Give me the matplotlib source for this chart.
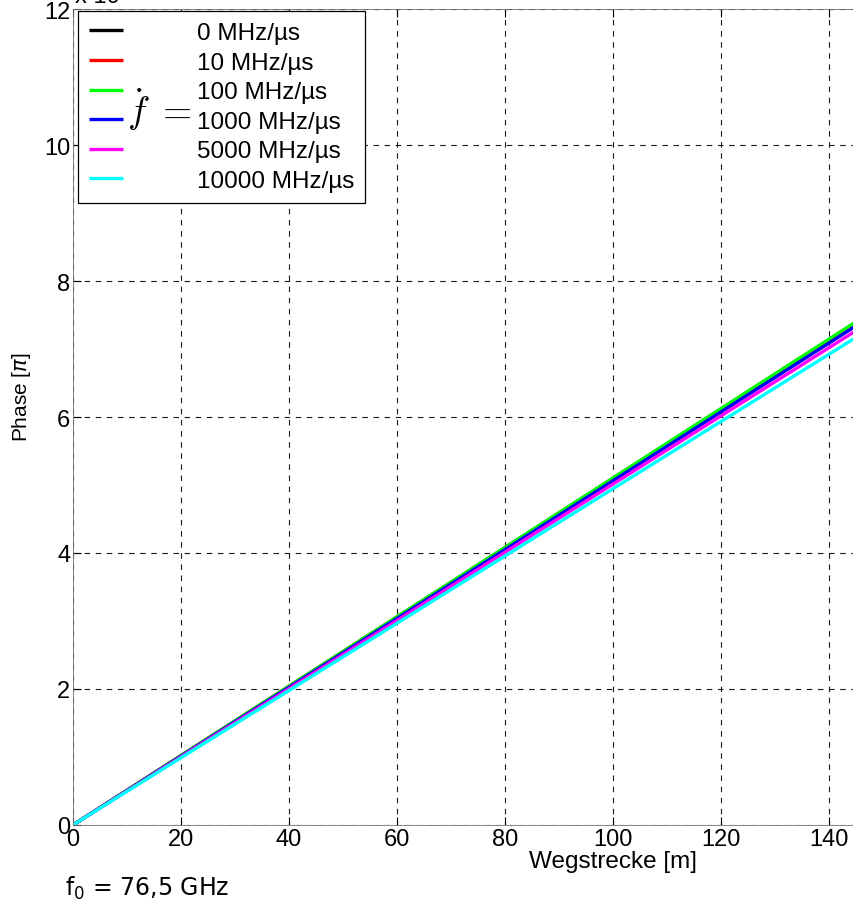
import numpy as np
import matplotlib.pyplot as plt

# values (phase in units of 1e4 pi)
distance = [0, 145]
phase_0 = [0, 7.39]
phase_10 = [0, 7.39]
phase_100 = [0, 7.40]
phase_1000 = [0, 7.34]
phase_5000 = [0, 7.27]
phase_10000 = [0, 7.17]
labels = ['0 MHz/µs', '10 MHz/µs', '100 MHz/µs', '1000 MHz/µs',
          '5000 MHz/µs', '10000 MHz/µs']
colors = ['#000000', '#ff0000', '#00ff00', '#0000ff', '#ff00ff', '#00ffff']
xticks = np.arange(0, 201, 20)
xticklabels = ['0', '20', '40', '60', '80', '100', '120', '140', '', '', '']

plt.rcParams['font.family'] = ['Liberation Sans', 'DejaVu Sans']

W, H = 854, 904
fig = plt.figure(figsize=(W / 100, H / 100), dpi=100)
# axes run from x=0 to x=200, the picture is cropped at about 145
x0, x1 = 73, 73 + 200 * 5.4
y0, y1 = 826, 10
aw, ah = x1 - x0, y0 - y1
ax = fig.add_axes([x0 / W, 1 - y0 / H, aw / W, ah / H])

series = [phase_0, phase_10, phase_100, phase_1000, phase_5000, phase_10000]
for ys, c, lab in zip(series, colors, labels):
    ax.plot(distance, ys, color=c, lw=2.4, label=lab, solid_capstyle='butt')

ax.set_xlim(0, 200)
ax.set_ylim(0, 12)
ax.set_xticks(xticks)
ax.set_xticklabels(xticklabels)
ax.set_yticks(np.arange(0, 13, 2))
ax.tick_params(direction='in', length=6, labelsize=17, pad=2, width=0.8,
               top=True, right=True)
ax.grid(True, ls=(0, (5, 5)), color='0.1', lw=0.8)
for s in ax.spines.values():
    s.set_linewidth(0.6)
    s.set_color('0.45')
ax.set_xlabel('Wegstrecke [m]', fontsize=17.5, labelpad=0)
ax.set_ylabel('Phase [$\\pi$]', fontsize=15)
ax.yaxis.set_label_coords((33 - x0) / aw, (y0 - 397) / ah)

leg = ax.legend(loc='upper left', bbox_to_anchor=((78 - x0) / aw, 1 - 2 / ah),
                fontsize=17.5, frameon=True, fancybox=False, handlelength=1.4,
                handletextpad=3.05, labelspacing=0.31, borderpad=0.45,
                borderaxespad=0.0)
leg.get_frame().set_edgecolor('black')
leg.get_frame().set_linewidth(0.9)
leg.get_frame().set_alpha(1)

fig.text(127 / W, 1 - 110 / H, r'$\dot{f}\ =$', fontsize=27, va='center',
         ha='left', math_fontfamily='cm')
fig.text(75 / W, 1 - 8 / H, 'x 10', fontsize=17, va='bottom', ha='left')
fig.text(65 / W, 1 - 896 / H, 'f$_0$ = 76,5 GHz', fontsize=17,
         va='baseline', ha='left', family='DejaVu Sans')

fig.savefig('out.png', dpi=100)
